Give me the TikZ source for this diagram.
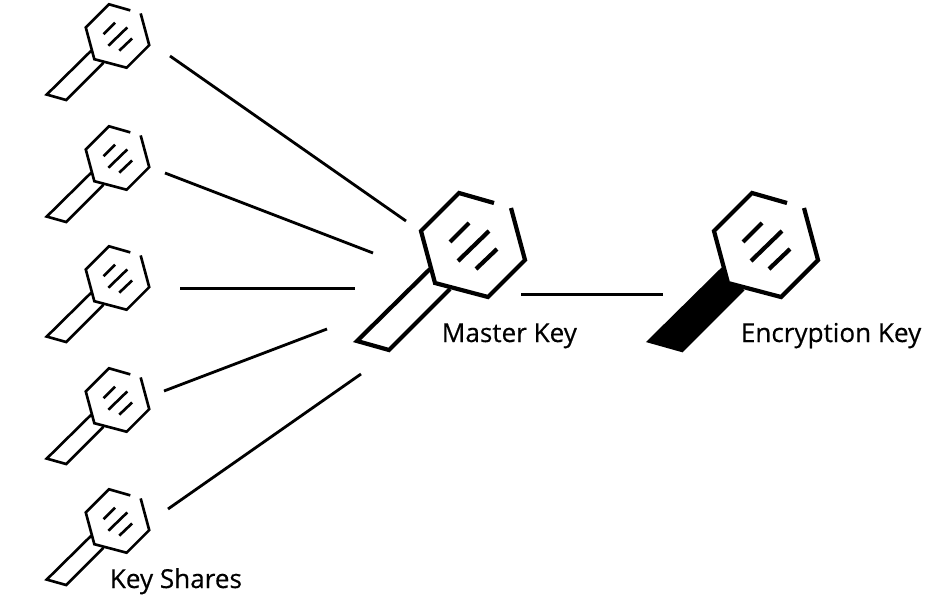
\documentclass[tikz,border=0pt]{standalone}
\usepackage{fontspec}
\setmainfont{Open Sans}[FakeBold=0.45]
\usetikzlibrary{positioning}
\tikzset{
	link/.style={line width=1.6pt},
	keylabel/.style={anchor=base west,inner sep=0pt,font=\fontsize{14.85pt}{17pt}\selectfont},
	handle/.style={},
	smallkey/.style={scale=0.61,line width=1.5pt},
	bigkey/.style={line width=2.4pt},
	keyicon/.pic={
		\path[handle] (-43,24) -- (-116,96) -- (-84,105) -- (-23,44) -- (-38,38) -- cycle;
		\draw (-43,24) -- (-116,96) -- (-84,105) -- (-23,44);
		\draw (21,-42) -- (-14,-52) -- (-52,-14) -- (-38,38) -- (15,52) -- (52,15) -- (38,-37);
		\draw (-4,-22) -- (-23,-3);
		\draw (16,-14) -- (-15,16);
		\draw (24,4) -- (3,24);
	}
}
\begin{document}
\begin{tikzpicture}[x=0.02cm,y=-0.02cm]
	\useasboundingbox (0,0) rectangle (942,598);
	\pic[smallkey] (shareA) at (117.5,36) {keyicon};
	\pic[smallkey] (shareB) at (117.5,158) {keyicon};
	\pic[smallkey] (shareC) at (117.5,278) {keyicon};
	\pic[smallkey] (shareD) at (117.5,400) {keyicon};
	\pic[smallkey] (shareE) at (117.5,521) {keyicon};
	\pic[bigkey] (master) at (473,245) {keyicon};
	\pic[bigkey,handle/.style={fill}] (encryption) at (766,245) {keyicon};
	\coordinate (a1) at (170,56);
	\coordinate (a2) at (406,221);
	\coordinate (b1) at (165,173);
	\coordinate (b2) at (373,253);
	\coordinate (c1) at (180,288.5);
	\coordinate (c2) at (355,288.5);
	\coordinate (d1) at (164,391);
	\coordinate (d2) at (327,329);
	\coordinate (e1) at (168,509);
	\coordinate (e2) at (361,374);
	\coordinate (m1) at (521,294.5);
	\coordinate (m2) at (663,294.5);
	\draw[link] (a1) -- (a2);
	\draw[link] (b1) -- (b2);
	\draw[link] (c1) -- (c2);
	\draw[link] (d1) -- (d2);
	\draw[link] (e1) -- (e2);
	\draw[link] (m1) -- (m2);
	\node[keylabel] (masterlabel) at (441.5,342) {Master Key};
	\node[keylabel] (encryptionlabel) at (740.5,342) {Encryption Key};
	\node[keylabel] (shareslabel) at (109.5,588) {Key Shares};
\end{tikzpicture}
\end{document}
